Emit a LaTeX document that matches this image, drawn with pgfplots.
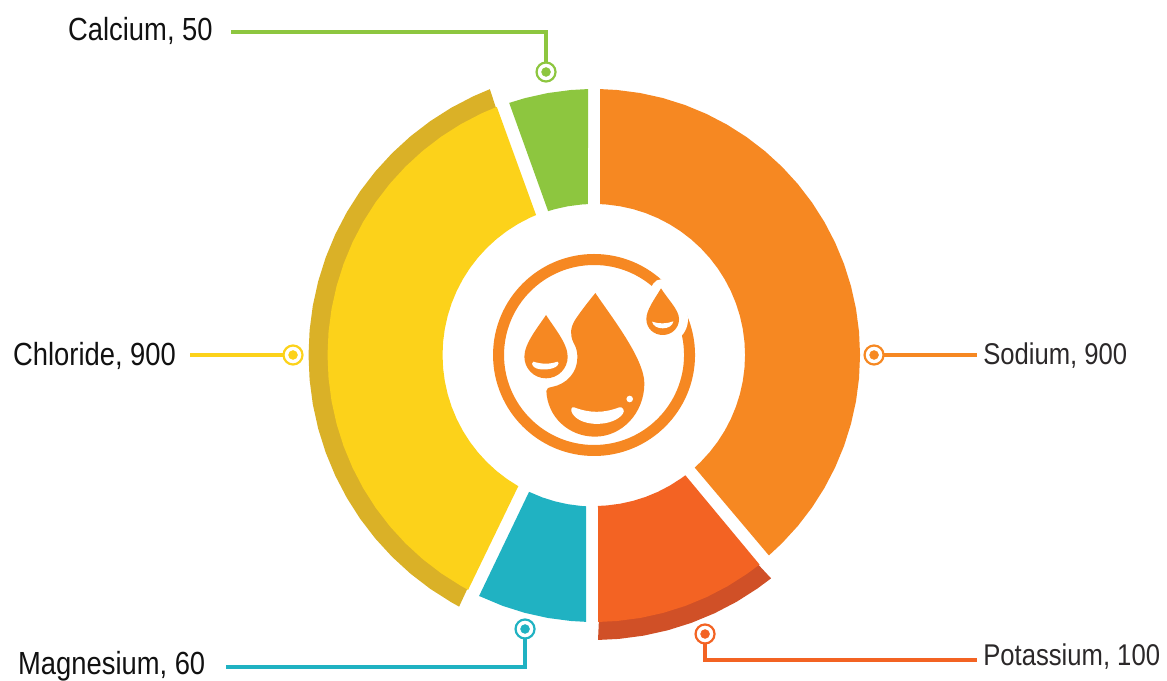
\documentclass[border=0pt]{standalone}
\usepackage{fontspec}
\usepackage{pgfplots}
\usepgfplotslibrary{polar}
\pgfplotsset{compat=1.18}
\setmainfont{Liberation Sans}[FakeStretch=0.855]
\definecolor{sodium}{HTML}{F68822}
\definecolor{potassium}{HTML}{F36323}
\definecolor{potassiumdark}{HTML}{D05027}
\definecolor{magnesium}{HTML}{20B2C2}
\definecolor{chloride}{HTML}{FCD21A}
\definecolor{chloridedark}{HTML}{DAB127}
\definecolor{calcium}{HTML}{8DC63F}
\definecolor{labeltext}{HTML}{2B2829}
\definecolor{labeltextdark}{HTML}{111111}
\pgfplotsset{
  sector/.style={draw=none, fill=#1, data cs=polar},
  leader/.style={draw=#1, line width=4pt, line join=miter, line cap=butt},
  ringmark/.style={only marks, mark=*, mark size=9.5pt,
    mark options={draw=#1, fill=white, line width=2.2pt}},
  dotmark/.style={only marks, mark=*, mark size=4.5pt,
    mark options={draw=#1, fill=#1, line width=0.4pt}},
}
\newcommand{\chartlabel}[2]{\fontsize{30}{36}\selectfont\color{labeltext}#1, #2}
\newcommand{\chartlabelbig}[2]{\fontsize{32}{38}\selectfont\color{labeltextdark}#1, #2}
\begin{document}
\begin{tikzpicture}
\useasboundingbox (0,0) rectangle (1167pt,680pt);
\begin{axis}[
  at={(0,0)}, anchor=south west,
  width=1167pt, height=680pt, scale only axis,
  xmin=-594, xmax=573, ymin=-325, ymax=355,
  hide axis, clip=false,
]
% Darker rims under the yellow and red sectors
\addplot[sector=chloridedark] coordinates {
  (111.4,285.5) (115,285.5) (120,285.5) (125,285.5) (130,285.5) (135,285.5) (140,285.5)
  (145,285.5) (150,285.5) (155,285.5) (160,285.5) (165,285.5) (170,285.5) (175,285.5)
  (180,285.5) (185,285.5) (190,285.5) (195,285.5) (200,285.5) (205,285.5) (210,285.5)
  (215,285.5) (220,285.5) (225,285.5) (230,285.5) (235,285.5) (240,285.5) (241.8,285.5)
  (241.5,262) (220,262) (200,262) (180,262) (160,262) (140,262) (120,262) (111.7,262)};
\addplot[sector=potassiumdark] coordinates {
  (-89.2,285) (-85,285) (-80,285) (-75,285) (-70,285) (-65,285) (-60,285) (-55,285) (-51.6,285)
  (-52,262) (-60,262) (-70,262) (-80,262) (-88.9,262)};

% Sodium
\addplot[sector=sodium] coordinates {
  (88.7,266) (85,266) (80,266) (75,266) (70,266) (65,266) (60,266) (55,266) (50,266)
  (45,266) (40,266) (35,266) (30,266) (25,266) (20,266) (15,266) (10,266) (5,266) (0,266)
  (-5,266) (-10,266) (-15,266) (-20,266) (-25,266) (-30,266) (-35,266) (-40,266) (-45,266) (-48.9,266)
  (-48.2,151) (-45,151) (-40,151) (-35,151) (-30,151) (-25,151) (-20,151) (-15,151) (-10,151) (-5,151)
  (0,151) (5,151) (10,151) (15,151) (20,151) (25,151) (30,151) (35,151) (40,151) (45,151)
  (50,151) (55,151) (60,151) (65,151) (70,151) (75,151) (80,151) (85,151) (87.7,151)};
% Potassium
\addplot[sector=potassium] coordinates {
  (-89.1,267) (-85,267) (-80,267) (-75,267) (-70,267) (-65,267) (-60,267) (-55,267) (-51.7,267)
  (-52.8,151) (-55,151) (-60,151) (-65,151) (-70,151) (-75,151) (-80,151) (-85,151) (-88.5,151)};
% Magnesium
\addplot[sector=magnesium] coordinates {
  (-115.5,267) (-110,267) (-105,267) (-100,267) (-95,267) (-91.7,267)
  (-93,151.5) (-95,151.5) (-100,151.5) (-105,151.5) (-110,151.5) (-115.4,151.5)};
% Chloride
\addplot[sector=chloride] coordinates {
  (111.4,266.5) (115,266.5) (120,266.5) (125,266.5) (130,266.5) (135,266.5) (140,266.5)
  (145,266.5) (150,266.5) (155,266.5) (160,266.5) (165,266.5) (170,266.5) (175,266.5)
  (180,266.5) (185,266.5) (190,266.5) (195,266.5) (200,266.5) (205,266.5) (210,266.5)
  (215,266.5) (220,266.5) (225,266.5) (230,266.5) (235,266.5) (240,266.5) (241.8,266.5)
  (240,151.5) (235,151.5) (230,151.5) (225,151.5) (220,151.5) (215,151.5) (210,151.5)
  (205,151.5) (200,151.5) (195,151.5) (190,151.5) (185,151.5) (180,151.5) (175,151.5)
  (170,151.5) (165,151.5) (160,151.5) (155,151.5) (150,151.5) (145,151.5) (140,151.5)
  (135,151.5) (130,151.5) (125,151.5) (120,151.5) (115,151.5) (112.5,151.5)};
% Calcium
\addplot[sector=calcium] coordinates {
  (108.6,266) (105,266) (100,266) (95,266) (91.3,266)
  (92.3,151) (95,151) (100,151) (105,151) (107.7,151)};

% Leader lines
\addplot[leader=calcium] coordinates {(-363,323) (-48,323) (-48,293)};
\addplot[leader=sodium] coordinates {(290,0) (383,0)};
\addplot[leader=potassium] coordinates {(111,-289) (111,-305) (383,-305)};
\addplot[leader=magnesium] coordinates {(-69,-284) (-69,-312) (-368,-312)};
\addplot[leader=chloride] coordinates {(-311,0) (-404,0)};

% Target marks at the ends of the leaders
\addplot[ringmark=calcium] coordinates {(-48,283)};
\addplot[dotmark=calcium] coordinates {(-48,283)};
\addplot[ringmark=sodium] coordinates {(280,0)};
\addplot[dotmark=sodium] coordinates {(280,0)};
\addplot[ringmark=potassium] coordinates {(111,-279)};
\addplot[dotmark=potassium] coordinates {(111,-279)};
\addplot[ringmark=magnesium] coordinates {(-69,-274)};
\addplot[dotmark=magnesium] coordinates {(-69,-274)};
\addplot[ringmark=chloride] coordinates {(-301,0)};
\addplot[dotmark=chloride] coordinates {(-301,0)};

% Labels
\node[anchor=base west, inner sep=0pt] at (axis cs:-526,314) {\chartlabelbig{Calcium}{50}};
\node[anchor=base west, inner sep=0pt] at (axis cs:-581,-11) {\chartlabelbig{Chloride}{900}};
\node[anchor=base west, inner sep=0pt] at (axis cs:-576,-320) {\chartlabelbig{Magnesium}{60}};
\node[anchor=base west, inner sep=0pt] at (axis cs:389,-311) {\chartlabel{Potassium}{100}};
\node[anchor=base west, inner sep=0pt] at (axis cs:389,-10) {\chartlabel{Sodium}{900}};

% Water-drop emblem in the hole of the ring
\draw[sodium, line width=11pt] (axis cs:0,0) circle [radius=95.5pt];
\begin{scope}[shift={(axis cs:-124,120)}, x=0.33333pt, y=-0.33333pt]
  % small drop: white halo first, it cuts the ring open
  \path[fill=white, draw=white, line width=18pt, line join=round]
    (573,160) .. controls (595,195) and (627,225) .. (627,252)
    .. controls (627,280) and (605,300) .. (578,300)
    .. controls (551,300) and (529,280) .. (529,252)
    .. controls (529,225) and (552,195) .. (573,160) -- cycle;
  \fill[sodium]
    (573,160) .. controls (595,195) and (627,225) .. (627,252)
    .. controls (627,280) and (605,300) .. (578,300)
    .. controls (551,300) and (529,280) .. (529,252)
    .. controls (529,225) and (552,195) .. (573,160) -- cycle;
  \fill[white]
    (546,260) .. controls (565,267) and (590,267) .. (610,259)
    .. controls (608,272) and (595,280) .. (578,280)
    .. controls (561,280) and (549,272) .. (546,260) -- cycle;
  % left drop
  \fill[sodium]
    (228,240) .. controls (250,275) and (293,325) .. (293,365)
    .. controls (293,400) and (265,430) .. (228,430)
    .. controls (191,430) and (163,400) .. (163,365)
    .. controls (163,325) and (205,275) .. (228,240) -- cycle;
  \fill[white]
    (190,380) .. controls (215,388) and (240,388) .. (262,380)
    .. controls (268,380) and (266,388) .. (262,392)
    .. controls (250,405) and (205,408) .. (192,396)
    .. controls (185,390) and (184,381) .. (190,380) -- cycle;
  % large drop
  \fill[sodium]
    (376,174) .. controls (420,240) and (523,370) .. (523,445)
    .. controls (523,535) and (455,605) .. (375,605)
    .. controls (295,605) and (232,545) .. (229,468)
    .. controls (229,460) and (235,458) .. (245,456)
    .. controls (290,448) and (322,412) .. (322,368)
    .. controls (322,345) and (317,335) .. (310,322)
    .. controls (300,300) and (300,280) .. (315,255)
    .. controls (335,225) and (355,200) .. (376,174) -- cycle;
  \fill[white]
    (312,517) .. controls (360,535) and (400,535) .. (448,517)
    .. controls (458,514) and (466,528) .. (458,537)
    .. controls (430,575) and (335,578) .. (308,537)
    .. controls (300,526) and (304,514) .. (312,517) -- cycle;
  \fill[white] (479,492) circle [x radius=3.3pt, y radius=3.3pt];
\end{scope}
\end{axis}
\end{tikzpicture}
\end{document}
